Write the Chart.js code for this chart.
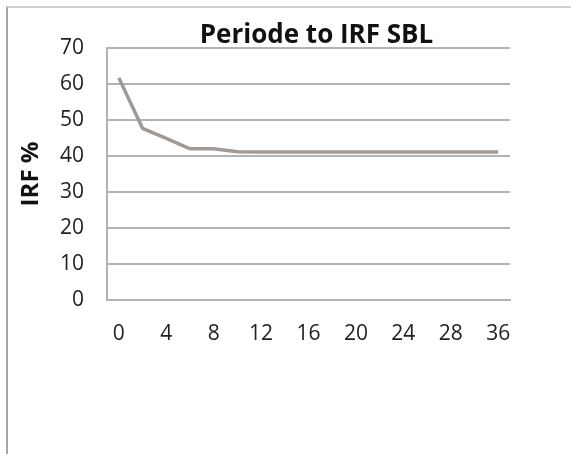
<!DOCTYPE html>
<html>
<head>
<meta charset="utf-8">
<script src="https://cdn.jsdelivr.net/npm/chart.js@4/dist/chart.umd.min.js"></script>
<style>
  html, body { margin: 0; padding: 0; background: #fff; }
  #wrap { position: relative; width: 571px; height: 454px; overflow: hidden; background: #fff; }
  #frame { position: absolute; left: 6px; top: 6px; width: 600px; height: 500px;
           border-left: 2px solid #a6a6a6; border-top: 2px solid #d0d0d0; box-sizing: border-box; }
  canvas { position: absolute; left: 0; top: 0; }
</style>
</head>
<body>
<div id="wrap">
  <div id="frame"></div>
  <canvas id="c" width="571" height="454"></canvas>
</div>
<script>
const categories = ['0','2','4','6','8','10','12','14','16','18','20','22','24','26','28','32','36'];
const irfValues  = [61.7, 47.7, 44.9, 42.0, 42.0, 41.2, 41.1, 41.1, 41.1, 41.1, 41.1, 41.1, 41.1, 41.1, 41.1, 41.1, 41.1];
const yTicks = [0, 10, 20, 30, 40, 50, 60, 70];
const chartTitle = 'Periode to IRF SBL';
const yTitle = 'IRF %';

const FONT = '"Open Sans", sans-serif';

const titlePlugin = {
  id: 'centeredTitle',
  afterDraw(chart) {
    const ctx = chart.ctx;
    const a = chart.chartArea;
    ctx.save();
    ctx.fillStyle = '#111';
    ctx.font = 'bold 26px ' + FONT;
    ctx.textAlign = 'center';
    ctx.textBaseline = 'middle';
    ctx.fillText(chartTitle, (a.left + a.right) / 2 + 8, a.top - 12);
    ctx.restore();
  }
};

new Chart(document.getElementById('c'), {
  type: 'line',
  data: {
    labels: categories,
    datasets: [{
      data: irfValues,
      borderColor: '#a09a97',
      borderWidth: 3.5,
      pointRadius: 0,
      tension: 0,
      fill: false
    }]
  },
  plugins: [titlePlugin],
  options: {
    responsive: false,
    animation: false,
    layout: { padding: { left: 17, right: 61, top: 48, bottom: 0 } },
    plugins: {
      legend: { display: false },
      tooltip: { enabled: false },
      title: { display: false }
    },
    scales: {
      x: {
        type: 'category',
        offset: true,
        grid: { display: false, drawTicks: false },
        border: { display: true, color: '#b3b3b3', width: 2 },
        ticks: {
          autoSkip: false,
          maxRotation: 0,
          padding: 21,
          color: '#222',
          font: { family: FONT, size: 21 },
          callback: function (v, i) { return i % 2 === 0 ? categories[i] : ''; }
        },
        afterFit: function (s) { s.height = 154; }
      },
      y: {
        min: 0,
        max: 70,
        afterBuildTicks: function (s) { s.ticks = yTicks.map(v => ({ value: v })); },
        grid: { color: '#b3b3b3', lineWidth: 2, drawTicks: false },
        border: { display: true, color: '#b3b3b3', width: 2 },
        ticks: {
          padding: 23,
          color: '#222',
          font: { family: FONT, size: 21 }
        },
        title: {
          display: true,
          text: yTitle,
          color: '#111',
          font: { family: FONT, size: 24, weight: 'bold' },
          padding: 0
        },
        afterFit: function (s) { s.width = 90; }
      }
    }
  }
});
</script>
</body>
</html>
